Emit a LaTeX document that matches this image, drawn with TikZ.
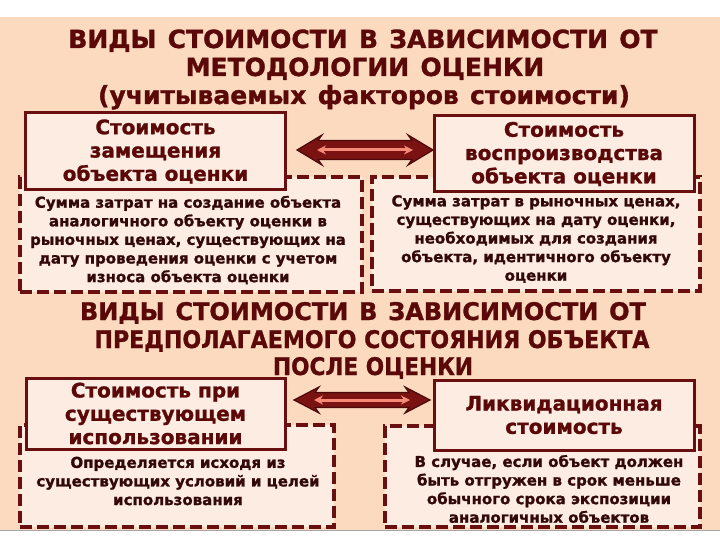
\documentclass[tikz,border=0pt]{standalone}
\usepackage{fontspec}
\usepackage{graphicx}
\setmainfont{DejaVu Sans}[BoldFeatures={FakeBold=1.2}]
\usetikzlibrary{arrows.meta}
\definecolor{bgpeach}{HTML}{FBDAC0}
\definecolor{boxfill}{HTML}{FCECE2}
\definecolor{maroon}{HTML}{6A0F0F}
\definecolor{ttlred}{HTML}{5A0808}
\definecolor{desctext}{HTML}{320808}
\definecolor{arrowdark}{HTML}{7A1212}
\definecolor{salmon}{HTML}{F58A78}
\newcommand{\wsp}{\hspace{0.45em}}
\newcommand{\fitline}[2]{\resizebox{#1}{18pt}{#2}}
\tikzset{
  ttl/.style={anchor=base, text=ttlred, inner sep=0pt, font=\fontsize{25}{28}\selectfont\bfseries},
  headbox/.style={draw=maroon, line width=3pt, fill=boxfill, text=ttlred, align=center, inner sep=0pt,
    font=\fontsize{20}{23.3}\selectfont\bfseries},
  dashbox/.style={draw=maroon, line width=3.5pt, dash pattern=on 12pt off 5pt, fill=boxfill, inner sep=0pt},
  desc/.style={text=desctext, align=center, inner sep=0pt, font=\fontsize{15}{18.6}\selectfont\bfseries},
  bigarrow/.style={fill=arrowdark, draw=maroon!70!black, line width=1.2pt, line join=miter},
  innerarrow/.style={draw=salmon, line width=3pt, {Stealth[length=9pt,width=9pt]}-{Stealth[length=9pt,width=9pt]}}
}
\begin{document}
\begin{tikzpicture}[x=1pt,y=-1pt]
\useasboundingbox (0,0) rectangle (720,540);
\fill[white] (0,0) rectangle (720,540);
\fill[bgpeach] (0,17) rectangle (720,530);
\draw[gray!70, line width=1pt] (0,530.5) -- (720,530.5);

% top title
\node[ttl] (t1) at (363,48) {ВИДЫ\wsp СТОИМОСТИ\wsp В\wsp ЗАВИСИМОСТИ\wsp ОТ};
\node[ttl] (t2) at (365,76) {МЕТОДОЛОГИИ\wsp ОЦЕНКИ};
\node[ttl] (t3) at (364,104) {(учитываемых\wsp факторов\wsp стоимости)};

% first pair
\node[dashbox, minimum width=342pt, minimum height=115pt] (dC) at (191,234.5) {};
\node[dashbox, minimum width=328pt, minimum height=114pt] (dD) at (536,234) {};
\node[headbox, minimum width=260pt, minimum height=77pt] (bA) at (155.5,151.5) {Стоимость\\замещения\\объекта оценки};
\node[headbox, minimum width=260pt, minimum height=76pt] (bB) at (564,154) {Стоимость\\воспроизводства\\объекта оценки};
\node[desc] (tC) at (188,240) {Сумма затрат на создание объекта\\аналогичного объекту оценки в\\рыночных ценах, существующих на\\дату проведения оценки с учетом\\износа объекта оценки};
\node[desc] (tD) at (536,239) {Сумма затрат в рыночных ценах,\\существующих на дату оценки,\\необходимых для создания\\объекта, идентичного объекту\\оценки};

% arrow 1
\coordinate (a1) at (365,150);
\begin{scope}[shift={(a1)}]
\fill[bigarrow] (-68,0) -- (-43,-15) -- (-47,-9.5) -- (47,-9.5) -- (43,-15) -- (68,0) -- (43,15) -- (47,9.5) -- (-47,9.5) -- (-43,15) -- cycle;
\end{scope}
\draw[innerarrow] ([xshift=-48pt]a1) -- ([xshift=48pt]a1);

% second title
\node[ttl] (s1) at (363,320) {\fitline{566pt}{ВИДЫ\wsp СТОИМОСТИ\wsp В\wsp ЗАВИСИМОСТИ\wsp ОТ}};
\node[ttl] (s2) at (372,348) {\fitline{555pt}{ПРЕДПОЛАГАЕМОГО СОСТОЯНИЯ ОБЪЕКТА}};
\node[ttl] (s3) at (373,375) {\fitline{200pt}{ПОСЛЕ ОЦЕНКИ}};

% second pair
\node[dashbox, minimum width=314pt, minimum height=102pt] (dG) at (177,476) {};
\node[dashbox, minimum width=315pt, minimum height=101pt] (dH) at (542.5,476.5) {};
\node[headbox, minimum width=259pt, minimum height=71pt] (bE) at (155.5,413.5) {Стоимость при\\существующем\\использовании};
\node[headbox, minimum width=260pt, minimum height=70pt] (bF) at (564,415) {Ликвидационная\\стоимость};
\node[desc] (tG) at (178,481) {Определяется исходя из\\существующих условий и целей\\использования};
\node[desc] (tH) at (549,489) {В случае, если объект должен\\быть отгружен в срок меньше\\обычного срока экспозиции\\аналогичных объектов};

% arrow 2
\coordinate (a2) at (362,400);
\begin{scope}[shift={(a2)}]
\fill[bigarrow] (-68,0) -- (-43,-13) -- (-47,-7.5) -- (47,-7.5) -- (43,-13) -- (68,0) -- (43,13) -- (47,7.5) -- (-47,7.5) -- (-43,13) -- cycle;
\end{scope}
\draw[innerarrow] ([xshift=-48pt]a2) -- ([xshift=48pt]a2);
\end{tikzpicture}
\end{document}
